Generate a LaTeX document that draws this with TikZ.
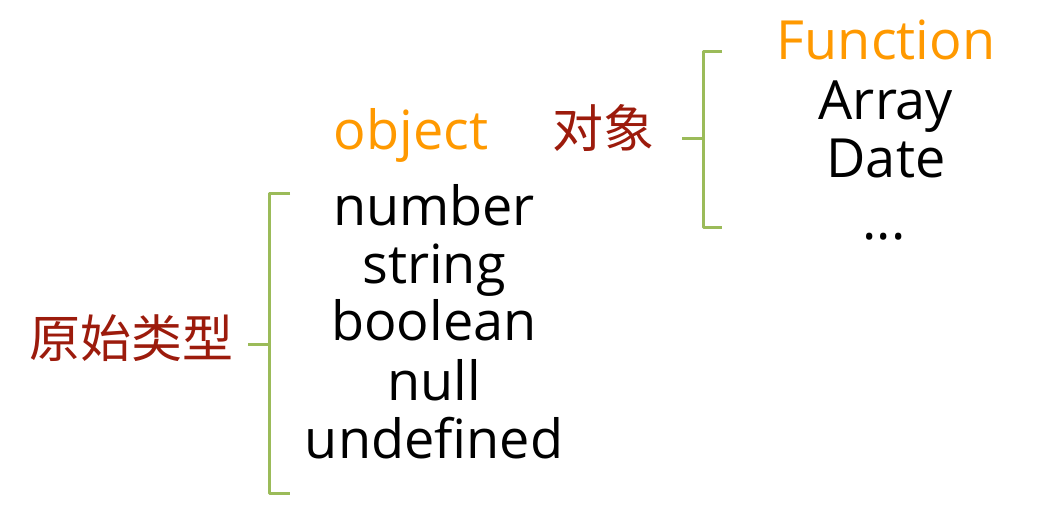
\documentclass[tikz,border=0pt]{standalone}
\usepackage{fontspec}
\setmainfont{Open Sans}
\newfontfamily\cjk{Noto Sans CJK SC}
\definecolor{brgreen}{HTML}{9BBB59}
\definecolor{orng}{HTML}{FF9900}
\definecolor{dred}{HTML}{9C1B0C}
\begin{document}
\begin{tikzpicture}[x=1pt,y=-1pt,
  item/.style={anchor=base,inner sep=0pt,font=\fontsize{54}{54}\selectfont},
  hl/.style={item,text=orng},
  cn/.style={anchor=center,inner sep=0pt,text=dred,font=\cjk\fontsize{51}{51}\selectfont},
  brace/.style={draw=brgreen,line width=3pt,line join=round}]
\useasboundingbox (0,0) rectangle (1057,526);
\node[hl] (obj) at (411,150) {object};
\node[item] (num) at (434,226) {number};
\node[item] (str) at (434,284) {string};
\node[item] (bool) at (434,341) {boolean};
\node[item] (nul) at (434,400) {null};
\node[item] (undef) at (434,458) {undefined};
\node[hl] (fn) at (886,60) {Function};
\node[item] (arr) at (886,120) {Array};
\node[item] (date) at (886,178) {Date};
\node[item] (dots) at (884,240) {...};
\node[cn] (prim) at (131,338) {原始类型};
\node[cn] (objcn) at (603,128) {对象};
\coordinate (b1) at (248,345);
\coordinate (b2) at (682,139);
\draw[brace] (290,194) -- (269,194) -- (269,493) -- (290,493);
\draw[brace] (b1) -- (269,345);
\draw[brace] (722,52) -- (703,52) -- (703,228) -- (722,228);
\draw[brace] (b2) -- (703,139);
\end{tikzpicture}
\end{document}
